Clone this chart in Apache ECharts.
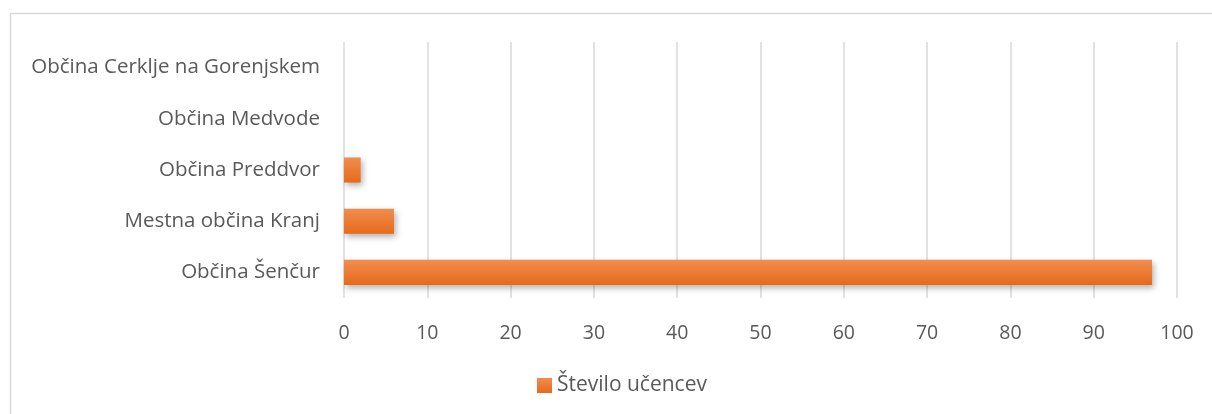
<!DOCTYPE html>
<html>
<head>
<meta charset="utf-8">
<script src="https://cdn.jsdelivr.net/npm/echarts@6/dist/echarts.min.js"></script>
<style>
html,body{margin:0;padding:0;background:#fff;}
#c{width:1212px;height:414px;}
</style>
</head>
<body>
<div id="c"></div>
<script>
const categories = ['Občina Šenčur', 'Mestna občina Kranj', 'Občina Preddvor', 'Občina Medvode', 'Občina Cerklje na Gorenjskem'];
const values = [97, 6, 2, 0, 0];
const seriesName = 'Število učencev';
const xTicks = { min: 0, max: 100, interval: 10 };

const FONT = '"Open Sans", sans-serif';
const chart = echarts.init(document.getElementById('c'), null, { renderer: 'canvas' });
const barGrad = new echarts.graphic.LinearGradient(0, 0, 0, 1, [
  { offset: 0, color: '#F28D4F' },
  { offset: 1, color: '#E56A19' }
]);
chart.setOption({
  animation: false,
  backgroundColor: '#fff',
  graphic: [{
    type: 'rect',
    shape: { x: 10.5, y: 13.5, width: 1300, height: 500 },
    style: { fill: 'none', stroke: '#d9d9d9', lineWidth: 1.5 },
    silent: true
  }],
  grid: { left: 344, right: 35, top: 42, bottom: 116, containLabel: false },
  legend: {
    data: [seriesName],
    top: 370,
    left: 532,
    itemWidth: 15,
    itemHeight: 15,
    itemGap: 10,
    icon: 'rect',
    textStyle: { fontFamily: FONT, fontSize: 21, color: '#595959' }
  },
  xAxis: {
    type: 'value',
    min: xTicks.min,
    max: xTicks.max,
    interval: xTicks.interval,
    axisLine: { show: false },
    axisTick: { show: false },
    axisLabel: { fontFamily: FONT, fontSize: 19.5, color: '#595959', margin: 25 },
    splitLine: { show: true, lineStyle: { color: '#d9d9d9', width: 1.5 } }
  },
  yAxis: {
    type: 'category',
    data: categories,
    axisLine: { show: false },
    axisTick: { show: false },
    axisLabel: { fontFamily: FONT, fontSize: 20.5, color: '#595959', margin: 24 },
    splitLine: { show: false }
  },
  series: [{
    name: seriesName,
    type: 'bar',
    data: values,
    barWidth: '49%',
    itemStyle: {
      color: barGrad,
      shadowColor: 'rgba(0,0,0,0.3)',
      shadowBlur: 6,
      shadowOffsetX: 2,
      shadowOffsetY: 3
    }
  }]
});
</script>
</body>
</html>
